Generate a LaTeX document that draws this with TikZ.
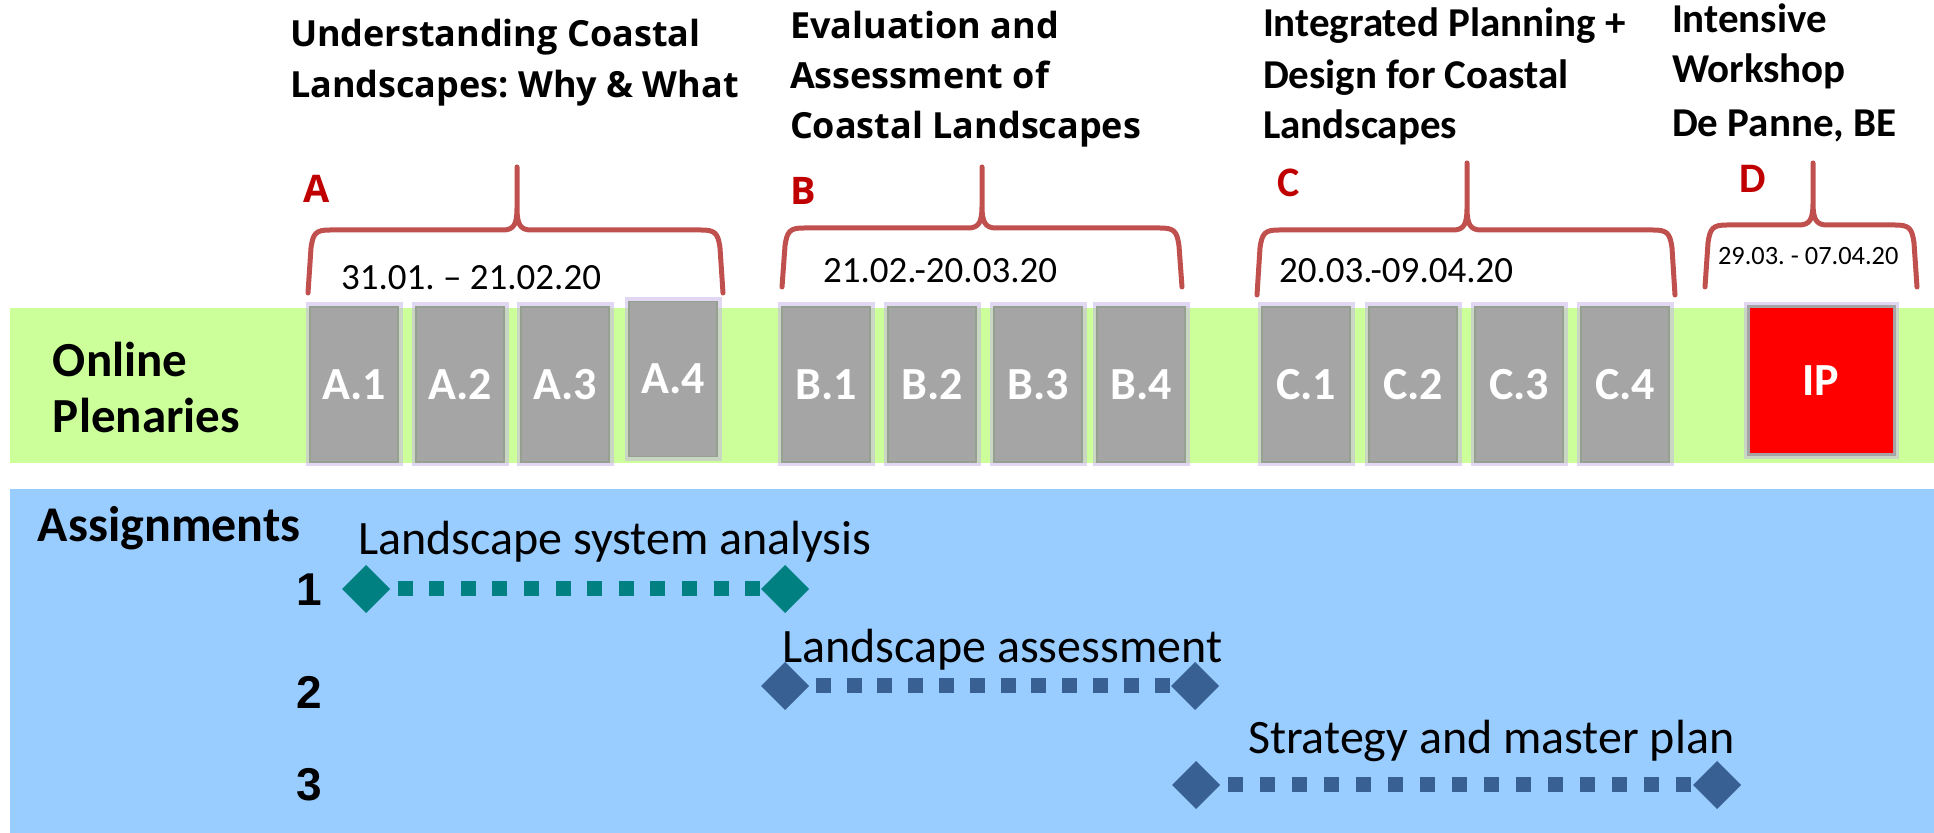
\documentclass[tikz,border=0pt]{standalone}
\usepackage{fontspec}
\setmainfont{Carlito}
\newfontfamily\segfont{Open Sans}
\newfontfamily\arlfont{Liberation Sans}
\usetikzlibrary{shapes.geometric}
\frenchspacing
\definecolor{bandgreen}{RGB}{204,255,153}
\definecolor{bandblue}{RGB}{153,204,255}
\definecolor{boxgrey}{RGB}{165,165,165}
\definecolor{boxedge}{RGB}{150,160,145}
\definecolor{bracered}{RGB}{192,80,77}
\definecolor{letterred}{RGB}{192,0,0}
\definecolor{tealc}{RGB}{0,128,128}
\definecolor{steelc}{RGB}{56,96,146}
\definecolor{glowc}{RGB}{200,182,232}
\definecolor{ipred}{RGB}{255,0,0}
\newcommand{\curlybr}[6]{%
  \draw[bracestyle] (#1,#4) -- (#1+3,#5+18) .. controls (#1+5,#5+3) and (#1+8,#5) .. (#1+22,#5)
    -- (#3-14,#5) .. controls (#3-3,#5) and (#3,#5-6) .. (#3,#5-22) -- (#3,#6)
    -- (#3,#5-22) .. controls (#3,#5-6) and (#3+3,#5) .. (#3+14,#5)
    -- (#2-22,#5) .. controls (#2-8,#5) and (#2-5,#5+3) .. (#2-3,#5+18) -- (#2,#4);}
\begin{document}
\begin{tikzpicture}[x=0.5pt,y=-0.5pt,
  txt/.style={anchor=base west, inner sep=0pt, outer sep=0pt},
  titleseg/.style={txt, font=\segfont\bfseries\fontsize{18}{22}\selectfont},
  titlecal/.style={txt, font=\bfseries\fontsize{20.5}{24}\selectfont},
  datetxt/.style={txt, font=\fontsize{18.5}{22}\selectfont},
  smalldate/.style={txt, font=\fontsize{13.2}{16}\selectfont},
  lettrseg/.style={txt, text=letterred, font=\segfont\bfseries\fontsize{19}{22}\selectfont},
  lettrcal/.style={txt, text=letterred, font=\bfseries\fontsize{21}{24}\selectfont},
  bracestyle/.style={draw=bracered, line width=2.5pt, line join=round, line cap=round},
  glow/.style={preaction={draw=glowc, line width=4.5pt, opacity=0.55}},
  sess/.style={rectangle, glow, fill=boxgrey, draw=boxedge, line width=0.8pt,
    minimum width=44pt, minimum height=77.5pt, inner sep=0pt, text=white,
    font=\bfseries\fontsize{23}{26}\selectfont},
  ipbox/.style={rectangle, glow, fill=ipred, draw=boxgrey, line width=1.5pt,
    minimum width=73pt, minimum height=74pt, inner sep=0pt, text=white,
    font=\bfseries\fontsize{23}{26}\selectfont},
  rowhead/.style={txt, font=\bfseries\fontsize{24.5}{28}\selectfont},
  numtxt/.style={txt, font=\arlfont\bfseries\fontsize{23}{26}\selectfont},
  asgtxt/.style={txt, font=\fontsize{24}{28}\selectfont},
  dm/.style={diamond, minimum width=24pt, minimum height=24pt, inner sep=0pt, outer sep=0pt},
  dotline/.style={line width=7.5pt, dash pattern=on 7.5pt off #1, dash phase=12pt}
]
\useasboundingbox (0,0) rectangle (1934,833);
% bands
\fill[bandgreen] (10,308) rectangle (1934,463);
\fill[bandblue] (10,489) rectangle (1934,833);
% titles
\node[titleseg] (tA1) at (290,47) {Understanding Coastal};
\node[titleseg] (tA2) at (290,98) {Landscapes: Why \& What};
\node[titleseg] (tB1) at (790,39) {Evaluation and};
\node[titleseg] (tB2) at (790,89) {Assessment of};
\node[titleseg] (tB3) at (790,139) {Coastal Landscapes};
\node[titlecal] (tC1) at (1263,37) {Integrated Planning +};
\node[titlecal] (tC2) at (1263,89) {Design for Coastal};
\node[titlecal] (tC3) at (1263,139) {Landscapes};
\node[titlecal] (tD1) at (1672,33) {Intensive};
\node[titlecal] (tD2) at (1672,83) {Workshop};
\node[titlecal] (tD3) at (1672,137) {De Panne, BE};
% letters
\node[lettrseg] (lA) at (303,203) {A};
\node[lettrseg] (lB) at (790,205) {B};
\node[lettrcal] (lC) at (1277,197) {C};
\node[lettrcal] (lD) at (1739,193) {D};
% braces
\curlybr{308}{723}{517}{293}{230}{167}
\curlybr{782}{1182}{982}{287}{228}{167}
\curlybr{1257}{1675}{1467}{295}{230}{163}
\curlybr{1705}{1917}{1813}{287}{225}{163}
% dates
\node[datetxt] (dA) at (341,290) {31.01. \textendash{} 21.02.20};
\node[datetxt] (dB) at (823,283) {21.02.-20.03.20};
\node[datetxt] (dC) at (1279,283) {20.03.-09.04.20};
\node[smalldate] (dD) at (1718,265) {29.03. - 07.04.20};
% sessions
\node[sess] (A1) at (354,384.5) {A.1};
\node[sess] (A2) at (460,384.5) {A.2};
\node[sess] (A3) at (565,384.5) {A.3};
\node[sess] (A4) at (673,379) {A.4};
\node[sess] (B1) at (826,384.5) {B.1};
\node[sess] (B2) at (932,384.5) {B.2};
\node[sess] (B3) at (1038,384.5) {B.3};
\node[sess] (B4) at (1141,384.5) {B.4};
\node[sess] (C1) at (1306,384.5) {C.1};
\node[sess] (C2) at (1413,384.5) {C.2};
\node[sess] (C3) at (1519,384.5) {C.3};
\node[sess] (C4) at (1625,384.5) {C.4};
\node[ipbox] (IP) at (1821,381) {IP};
% row headers
\node[rowhead] (on1) at (53,377) {Online};
\node[rowhead] (on2) at (53,433) {Plenaries};
\node[rowhead, font=\bfseries\fontsize{25}{28}\selectfont] (asg) at (38,542) {Assignments};
\node[numtxt] (n1) at (296,606) {1};
\node[numtxt] (n2) at (296,709) {2};
\node[numtxt] (n3) at (296,800) {3};
% assignment labels
\node[asgtxt] (s1) at (358,555) {Landscape system analysis};
\node[asgtxt] (s2) at (782,663) {Landscape assessment};
\node[asgtxt] (s3) at (1248,754) {Strategy and master plan};
% assignment spans
\node[dm, fill=tealc] (d1a) at (366,589) {};
\node[dm, fill=tealc] (d1b) at (785,589) {};
\draw[dotline=8.3pt, draw=tealc] (d1a.east) -- (d1b.west);
\node[dm, fill=steelc] (d2a) at (785,686) {};
\node[dm, fill=steelc] (d2b) at (1195,686) {};
\draw[dotline=7.9pt, draw=steelc] (d2a.east) -- (d2b.west);
\node[dm, fill=steelc] (d3a) at (1196,785) {};
\node[dm, fill=steelc] (d3b) at (1717,785) {};
\draw[dotline=8.5pt, draw=steelc] (d3a.east) -- (d3b.west);
\end{tikzpicture}
\end{document}
